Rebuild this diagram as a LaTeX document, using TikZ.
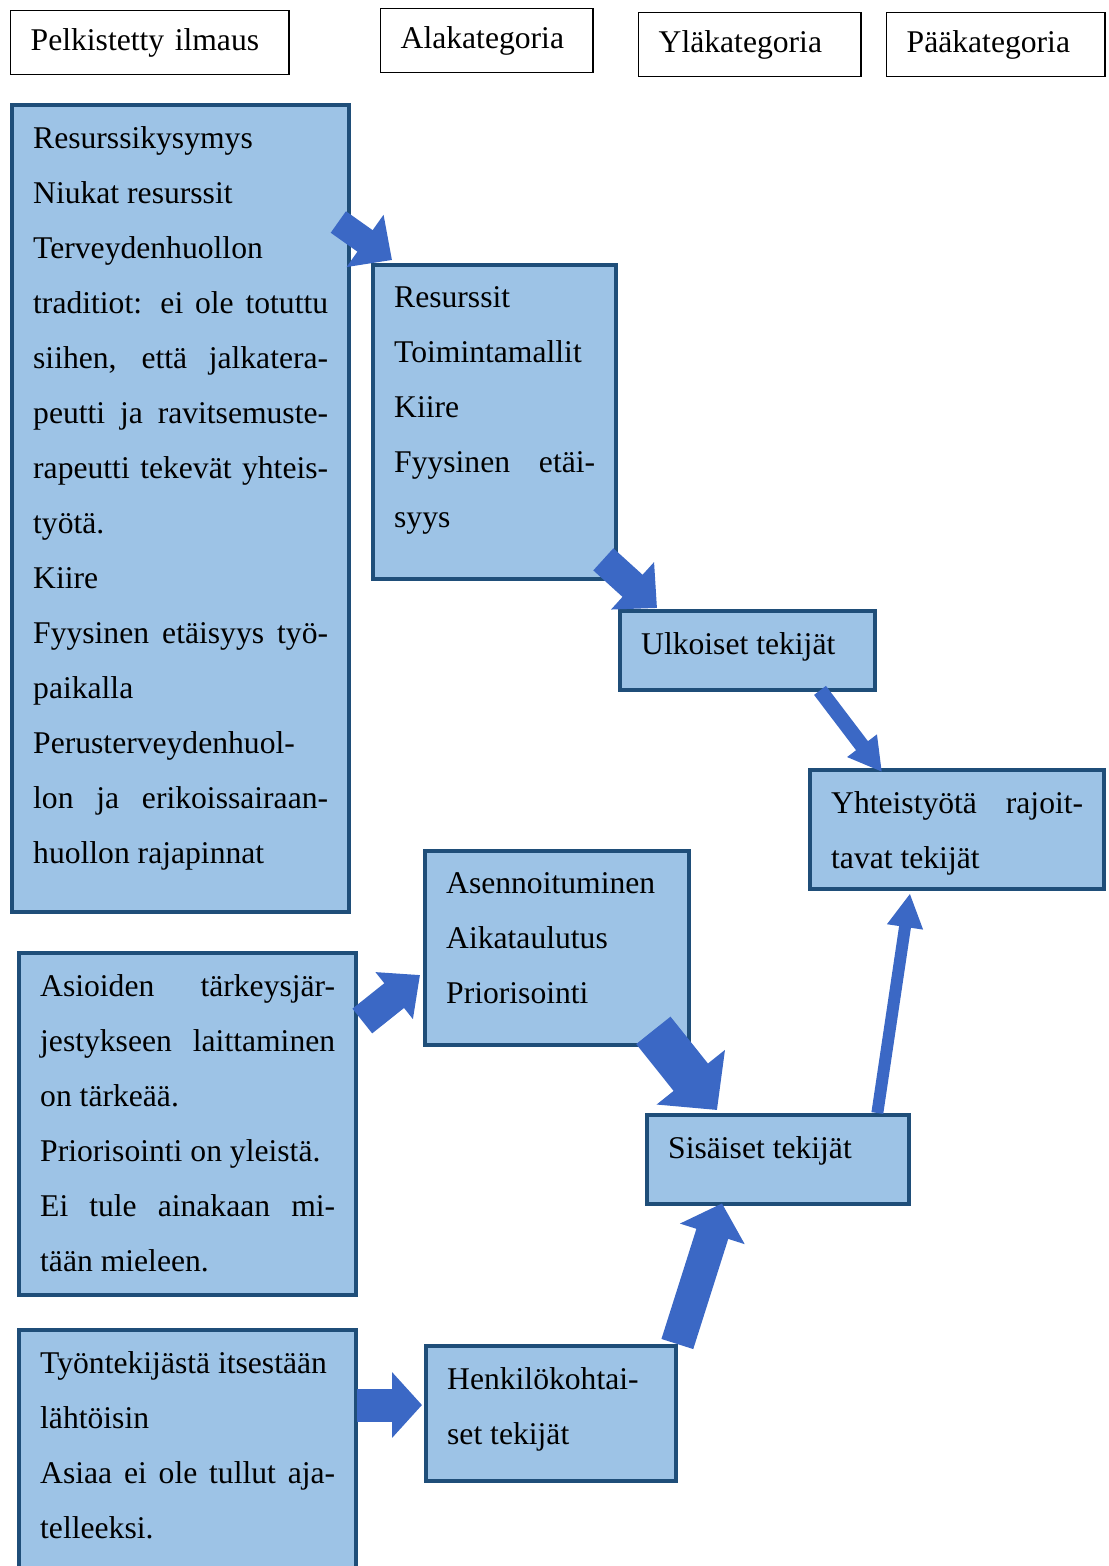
\documentclass[tikz,border=0pt]{standalone}
\usepackage{fontspec}
\setmainfont{Liberation Serif}
\usetikzlibrary{positioning,arrows.meta}
\usepackage{xcolor}
\definecolor{boxfill}{HTML}{9DC3E6}
\definecolor{boxline}{HTML}{1F4E79}
\definecolor{arrowblue}{HTML}{3B68C5}
\hyphenpenalty=10000
\newcommand{\boxtext}[3]{\parbox[c][#1][t]{#2}{#3}}

\begin{document}
\begin{tikzpicture}[
        x=0.02cm, y=-0.02cm,
        every node/.style={font=\fontsize{18}{31.3}\selectfont},
        headbox/.style={draw, line width=0.8pt, anchor=north west, minimum height=1.28cm, inner xsep=0.4cm, align=left},
        bluebox/.style={draw=boxline, line width=2.5pt, fill=boxfill, anchor=north west, inner sep=0.42cm},
        fatarrow/.style n args={3}{arrowblue, line width=#1, -{Triangle[length=#2, width=#3]}}
    ]
        \useasboundingbox (0,0) rectangle (1109,1566);

        % Column headings
        \node[headbox, text width=4.77cm] (pelkHead) at (10,10) {Pelkistetty ilmaus};
        \node[headbox, text width=3.45cm] (alaHead) at (380,8) {Alakategoria};
        \node[headbox, text width=3.65cm] (ylaHead) at (638,12) {Yläkategoria};
        \node[headbox, text width=3.57cm] (paaHead) at (886,12) {Pääkategoria};

        % Reduced expressions
        \node[bluebox] (pelk1) at (10,103) {\boxtext{15.30cm}{5.90cm}{%
            Resurssikysymys\\
            Niukat resurssit\\
            Terveydenhuollon\\
            traditiot: ei ole totuttu\linebreak
            siihen, että jalkatera-\linebreak
            peutti ja ravitsemuste-\linebreak
            rapeutti tekevät yhteis-\linebreak
            työtä.\\
            Kiire\\
            Fyysinen etäisyys työ-\linebreak
            paikalla\\
            Perusterveydenhuol-\\
            lon ja erikoissairaan-\linebreak
            huollon rajapinnat}};
        \node[bluebox] (pelk2) at (17,951) {\boxtext{6.00cm}{5.90cm}{%
            Asioiden tärkeysjär-\linebreak
            jestykseen laittaminen\linebreak
            on tärkeää.\\
            Priorisointi on yleistä.\\
            Ei tule ainakaan mi-\linebreak
            tään mieleen.}};
        \node[bluebox] (pelk3) at (17,1328) {\boxtext{6.00cm}{5.90cm}{%
            Työntekijästä itsestään\\
            lähtöisin\\
            Asiaa ei ole tullut aja-\linebreak
            telleeksi.}};

        % Subcategories
        \node[bluebox] (ala1) at (371,263) {\boxtext{5.44cm}{4.02cm}{%
            Resurssit\\
            Toimintamallit\\
            Kiire\\
            Fyysinen etäi-\linebreak
            syys}};
        \node[bluebox] (ala2) at (423,849) {\boxtext{3.04cm}{4.44cm}{%
            Asennoituminen\\
            Aikataulutus\\
            Priorisointi}};
        \node[bluebox] (ala3) at (424,1344) {\boxtext{1.86cm}{4.16cm}{%
            Henkilökohtai-\\
            set tekijät}};

        % Upper categories
        \node[bluebox] (yla1) at (618,609) {\boxtext{0.74cm}{4.26cm}{Ulkoiset tekijät}};
        \node[bluebox] (yla2) at (645,1113) {\boxtext{0.94cm}{4.40cm}{Sisäiset tekijät}};

        % Main category
        \node[bluebox] (paa1) at (808,768) {\boxtext{1.54cm}{5.04cm}{%
            Yhteistyötä rajoit-\linebreak
            tavat tekijät}};

        % Arrows
        \draw[fatarrow={15pt}{18.8pt}{35.3pt}] ([shift={(-13,119)}]pelk1.north east) -- ([shift={(21,-3)}]ala1.north west);
        \draw[fatarrow={17pt}{18.8pt}{35.3pt}] ([shift={(-15,-22)}]ala1.south east) -- ([shift={(39,-1)}]yla1.north west);
        \draw[fatarrow={8.5pt}{18.8pt}{19.9pt}] ([shift={(202,-2)}]yla1.south west) -- ([shift={(74,4)}]paa1.north west);
        \draw[fatarrow={18pt}{18.8pt}{33pt}] ([shift={(4,70)}]pelk2.north east) -- ([shift={(-3,126)}]ala2.north west);
        \draw[fatarrow={25pt}{23.9pt}{48.4pt}] ([shift={(-38,-17)}]ala2.south east) -- ([shift={(72,-3)}]yla2.north west);
        \draw[fatarrow={19pt}{18.2pt}{37.6pt}] ([shift={(-1,0)}]ala3.north east) -- ([shift={(77,-3)}]yla2.south west);
        \draw[fatarrow={6.8pt}{19.3pt}{19.3pt}] ([shift={(-34,0)}]yla2.north east) -- ([shift={(102,2)}]paa1.south west);
        \draw[fatarrow={18.8pt}{17pt}{36.4pt}] ([shift={(-1,77)}]pelk3.north east) -- ([shift={(-2,61)}]ala3.north west);

    \end{tikzpicture}
\end{document}
